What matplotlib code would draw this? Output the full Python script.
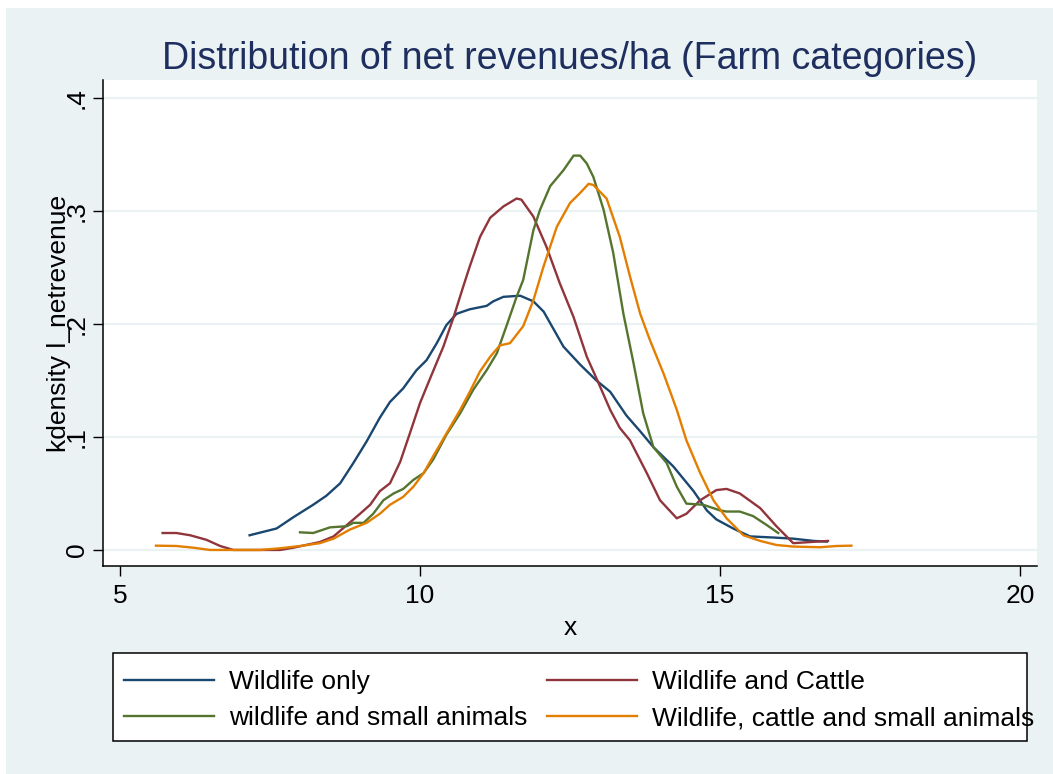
import matplotlib.pyplot as plt
from matplotlib.patches import Rectangle

# kernel density curves
x_wild = [7.16, 7.61, 7.89, 8.22, 8.44, 8.67, 8.89, 9.11, 9.33, 9.5, 9.72, 9.94, 10.11, 10.28, 10.44,
          10.61, 10.83, 11.11, 11.22, 11.39, 11.67, 11.89, 12.06, 12.22, 12.39, 12.67, 12.94, 13.17,
          13.44, 13.67, 13.89, 14.22, 14.56, 14.78, 14.94, 15.22, 15.5, 15.89, 16.22, 16.56, 16.78]
y_wild = [0.013, 0.019, 0.029, 0.040, 0.048, 0.059, 0.077, 0.096, 0.117, 0.131, 0.143, 0.159, 0.168, 0.183, 0.199,
          0.209, 0.213, 0.216, 0.220, 0.224, 0.225, 0.220, 0.211, 0.196, 0.180, 0.164, 0.150, 0.140,
          0.119, 0.105, 0.091, 0.074, 0.052, 0.035, 0.027, 0.019, 0.012, 0.011, 0.010, 0.008, 0.0074]

x_cattle = [5.71, 5.94, 6.17, 6.44, 6.67, 6.89, 7.17, 7.67, 7.89, 8.33, 8.56, 8.78, 9.0, 9.17, 9.33, 9.5,
            9.67, 9.83, 10.0, 10.17, 10.39, 10.56, 10.72, 10.83, 11.0, 11.17, 11.39, 11.61, 11.69, 11.89,
            12.11, 12.33, 12.56, 12.78, 12.94, 13.17, 13.33, 13.5, 13.78, 14.0, 14.28, 14.44, 14.67,
            14.94, 15.11, 15.33, 15.67, 15.94, 16.22, 16.5, 16.8]
y_cattle = [0.015, 0.015, 0.013, 0.009, 0.0035, 0.0, 0.0, 0.0, 0.002, 0.007, 0.012, 0.022, 0.032, 0.040, 0.052, 0.059,
            0.078, 0.103, 0.130, 0.152, 0.180, 0.206, 0.233, 0.251, 0.277, 0.294, 0.304, 0.311, 0.310, 0.295,
            0.268, 0.236, 0.206, 0.171, 0.152, 0.124, 0.108, 0.097, 0.068, 0.044, 0.028, 0.032, 0.044,
            0.053, 0.054, 0.050, 0.037, 0.021, 0.006, 0.007, 0.008]

x_small = [8.0, 8.22, 8.5, 8.78, 8.89, 9.06, 9.22, 9.39, 9.56, 9.72, 9.89, 10.06, 10.22, 10.44, 10.67,
           10.89, 11.11, 11.28, 11.44, 11.61, 11.72, 11.89, 12.0, 12.17, 12.39, 12.56, 12.67, 12.78,
           12.89, 13.06, 13.22, 13.39, 13.56, 13.72, 13.89, 14.11, 14.28, 14.44, 14.72, 15.0, 15.11,
           15.33, 15.55, 15.78, 15.97]
y_small = [0.0156, 0.015, 0.020, 0.021, 0.024, 0.024, 0.032, 0.044, 0.050, 0.054, 0.062, 0.068, 0.080, 0.102, 0.121,
           0.142, 0.159, 0.174, 0.198, 0.224, 0.239, 0.283, 0.301, 0.322, 0.336, 0.349, 0.349, 0.342,
           0.330, 0.301, 0.263, 0.209, 0.165, 0.121, 0.091, 0.077, 0.056, 0.041, 0.040, 0.035, 0.034,
           0.034, 0.030, 0.022, 0.015]

x_all = [5.6, 5.94, 6.22, 6.5, 6.89, 7.33, 7.67, 8.0, 8.33, 8.56, 8.83, 9.11, 9.33, 9.5, 9.72, 9.89,
         10.06, 10.22, 10.44, 10.67, 10.83, 11.0, 11.17, 11.33, 11.5, 11.72, 11.89, 12.06, 12.28, 12.5,
         12.67, 12.81, 12.89, 13.11, 13.33, 13.5, 13.67, 13.83, 14.06, 14.28, 14.44, 14.67, 14.89,
         15.11, 15.39, 15.67, 15.94, 16.22, 16.67, 16.94, 17.19]
y_all = [0.0038, 0.0035, 0.002, 0.0, 0.0, 0.0, 0.0015, 0.0035, 0.006, 0.010, 0.018, 0.024, 0.032, 0.040, 0.047, 0.056,
         0.068, 0.083, 0.103, 0.124, 0.140, 0.158, 0.171, 0.181, 0.183, 0.198, 0.221, 0.251, 0.286, 0.307,
         0.316, 0.324, 0.323, 0.311, 0.277, 0.242, 0.209, 0.186, 0.156, 0.124, 0.097, 0.068, 0.044,
         0.028, 0.013, 0.008, 0.0044, 0.003, 0.0024, 0.0035, 0.0038]

labels = ["Wildlife only", "Wildlife and Cattle",
          "wildlife and small animals", "Wildlife, cattle and small animals"]
colors = ["#1a476f", "#90353b", "#55752f", "#e37e00"]

yticks = [0, 0.1, 0.2, 0.3, 0.4]
yticklabels = ["0", ".1", ".2", ".3", ".4"]
xticks = [5, 10, 15, 20]

plt.rcParams['font.family'] = ['Liberation Sans', 'DejaVu Sans']

W, H = 1053, 774
fig = plt.figure(figsize=(W / 100, H / 100), dpi=100, facecolor="white")
fig.patches.append(Rectangle((6 / W, 0), (W - 6) / W, (H - 8) / H, transform=fig.transFigure,
                             facecolor="#eaf2f3", edgecolor="none", zorder=-1))

ax = fig.add_axes([103 / W, (H - 566) / H, (1037 - 103) / W, (566 - 80) / H])
ax.set_facecolor("white")

for xs, ys, c in zip([x_wild, x_cattle, x_small, x_all], [y_wild, y_cattle, y_small, y_all], colors):
    ax.plot(xs, ys, color=c, lw=1.7, solid_joinstyle="round")

ax.set_xlim(4.717, 20.283)
ax.set_ylim(-0.0142, 0.4159)
ax.set_xticks(xticks)
ax.set_yticks(yticks)
ax.set_yticklabels(yticklabels, rotation=90, va="center")
ax.tick_params(axis="both", labelsize=19, length=7, width=1, direction="out", colors="black")
ax.tick_params(axis="x", pad=6)
ax.tick_params(axis="y", pad=3)
ax.grid(axis="y", color="#eaf2f3", lw=1.6)
ax.set_axisbelow(True)
for s in ["top", "right"]:
    ax.spines[s].set_visible(False)
for s in ["left", "bottom"]:
    ax.spines[s].set_linewidth(1.1)

ax.set_xlabel("x", fontsize=19, labelpad=6)
ax.set_ylabel("kdensity l_netrevenue", fontsize=19, labelpad=-4)
ax.set_title("Distribution of net revenues/ha (Farm categories)", fontsize=27, color="#1e2f5f", pad=8)

# legend box drawn on its own; in the original the last label runs past it
fig.patches.append(Rectangle((113 / W, (H - 741) / H), (1027 - 113) / W, 88 / H,
                             transform=fig.transFigure, facecolor="white",
                             edgecolor="black", lw=1.1, zorder=1))

# stata fills the legend row by row, matplotlib column by column
order = [0, 2, 1, 3]
handles = [plt.Line2D([], [], color=colors[i], lw=1.7) for i in order]
leg = fig.legend(handles, [labels[i] for i in order], ncol=2, loc="upper left",
                 bbox_to_anchor=(124 / W, (H - 670) / H),
                 fontsize=19, frameon=False, handlelength=3.4, handletextpad=0.57,
                 columnspacing=0.76, borderpad=0, labelspacing=0.46, borderaxespad=0)
leg.set_zorder(2)

fig.savefig("out.png", dpi=100, facecolor=fig.get_facecolor())
